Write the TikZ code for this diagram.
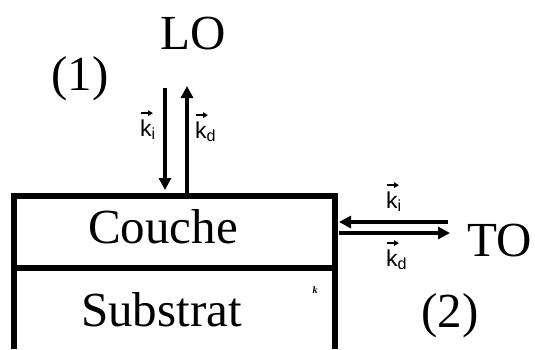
\documentclass[tikz,border=0pt]{standalone}
\usepackage{fontspec}
\setmainfont{Liberation Serif}
\newfontfamily\labfont{Liberation Sans}
\usetikzlibrary{arrows.meta,calc}
\tikzset{
  big/.style={inner sep=0pt, anchor=base west, font=\fontsize{49}{49}\selectfont},
  lab/.style={inner sep=0pt, anchor=base west, font=\labfont\fontsize{23}{23}\selectfont},
  wall/.style={line width=5.5pt},
  flux/.style={line width=4pt, -{Triangle[length=12pt,width=12pt]}},
  vec/.style={line width=1.3pt, -{Triangle[length=5pt,width=5.5pt]}},
}
\newcommand\vecover[1]{\draw[vec] ($(#1.north west)+(1,-6)$) -- ($(#1.north west)+(13,-6)$);}
\begin{document}
\begin{tikzpicture}[x=1pt,y=-1pt]
\useasboundingbox[fill=white] (0,0) rectangle (535,349);
% layers
\coordinate (bl) at (14,349);
\coordinate (tl) at (14,196);
\coordinate (tr) at (335,196);
\coordinate (br) at (335,349);
\coordinate (ml) at (14,268);
\coordinate (mr) at (335,268);
\draw[wall] (bl) -- (tl) -- (tr) -- (br);
\draw[wall] (ml) -- (mr);
\node[big] (couche) at (88,243) {Couche};
\node[big] (substrat) at (81,326) {Substrat};
% texts
\node[big] (lo) at (160,49) {LO};
\node[big] (p1) at (51,90) {(1)};
\node[big] (to) at (467,256) {TO};
\node[big] (p2) at (421,327) {(2)};
% vertical arrows
\coordinate (d0) at (165,88);
\coordinate (d1) at (165,190);
\coordinate (u0) at (187,193);
\coordinate (u1) at (187,86);
\draw[flux] (d0) -- (d1);
\draw[flux] (u0) -- (u1);
\node[lab] (ki1) at (140,136) {k\textsubscript{i}};
\node[lab] (kd1) at (195,138) {k\textsubscript{d}};
\vecover{ki1}
\vecover{kd1}
% horizontal arrows
\coordinate (h0) at (448,222);
\coordinate (h1) at (339,222);
\coordinate (g0) at (339,233);
\coordinate (g1) at (450,233);
\draw[flux] (h0) -- (h1);
\draw[flux] (g0) -- (g1);
\node[lab] (ki2) at (386,208) {k\textsubscript{i}};
\node[lab] (kd2) at (386,266) {k\textsubscript{d}};
\vecover{ki2}
\vecover{kd2}
% small mark
\node[inner sep=0pt] (mark) at (315,290) {\fontsize{10}{10}\selectfont\bfseries\itshape k};
\end{tikzpicture}
\end{document}
